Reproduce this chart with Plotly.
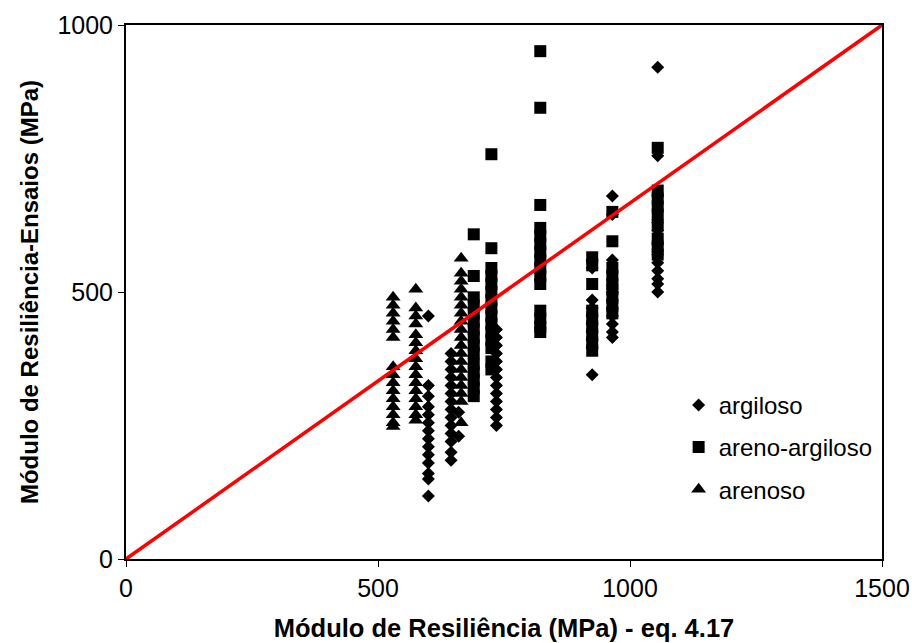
import plotly.graph_objects as go

# Resilient modulus: measured (tests) vs. predicted by eq. 4.17, per soil type

# argiloso (clayey)
arg_x = ([600] * 14 + [645] * 14 + [660] * 2 + [735] * 13 + [925] * 10
         + [965] * 10 + [1055] * 12)
arg_y = ([455, 325, 305, 285, 270, 255, 240, 225, 210, 195, 180, 160, 150, 118]
         + [385, 370, 355, 340, 325, 310, 295, 280, 265, 250, 235, 220, 200, 185]
         + [275, 230]
         + [430, 415, 400, 385, 370, 355, 340, 325, 310, 295, 280, 265, 250]
         + [560, 545, 485, 470, 455, 440, 425, 410, 395, 345]
         + [680, 645, 560, 500, 485, 470, 455, 440, 425, 415]
         + [921, 755, 680, 630, 615, 590, 570, 555, 540, 525, 515, 500])

# areno-argiloso (clayey sand)
aa_x = ([690] * 15 + [725] * 15 + [822] * 15 + [925] * 9 + [965] * 9
        + [1055] * 9)
aa_y = ([608, 530, 490, 475, 460, 445, 430, 415, 400, 385, 365, 350, 335, 320, 305]
        + [758, 582, 545, 530, 515, 500, 485, 470, 455, 440, 425, 410, 395, 370, 355]
        + [951, 845, 663, 620, 605, 590, 575, 560, 545, 530, 515, 465, 450, 435, 425]
        + [565, 550, 515, 465, 450, 435, 420, 405, 390]
        + [650, 595, 545, 530, 515, 505, 490, 475, 460]
        + [770, 690, 675, 660, 645, 625, 600, 585, 570])

# arenoso (sandy)
are_x = [530] * 15 + [575] * 16 + [665] * 19
are_y = ([490, 475, 460, 445, 430, 415, 360, 345, 330, 315, 300, 285, 270, 255, 248]
         + [505, 470, 455, 440, 420, 405, 390, 375, 360, 345, 330, 315, 300, 285, 270, 260]
         + [563, 535, 520, 505, 490, 475, 460, 445, 430, 415, 400, 385, 370, 355,
            340, 325, 310, 295, 255])

# line of equality
line_x = [0, 1500]
line_y = [0, 1000]

x_ticks = [0, 500, 1000, 1500]
y_ticks = [0, 500, 1000]

font_family = "Arial, Liberation Sans, sans-serif"
fs = 24

fig = go.Figure()
fig.add_trace(go.Scatter(x=arg_x, y=arg_y, mode="markers", name="argiloso",
                         legendgroup="a",
                         marker=dict(symbol="diamond", size=10, color="black")))
fig.add_trace(go.Scatter(x=aa_x, y=aa_y, mode="markers", name="areno-argiloso",
                         legendgroup="b",
                         marker=dict(symbol="square", size=12, color="black")))
fig.add_trace(go.Scatter(x=are_x, y=are_y, mode="markers", name="arenoso",
                         legendgroup="c",
                         marker=dict(symbol="triangle-up", size=13, color="black")))
fig.add_trace(go.Scatter(x=line_x, y=line_y, mode="lines", showlegend=False,
                         line=dict(color="#ff0000", width=3.5)))

fig.update_layout(
    width=912, height=643,
    margin=dict(l=126, r=30, t=25, b=84),
    paper_bgcolor="white", plot_bgcolor="white",
    font=dict(family=font_family, size=fs, color="black"),
    legend=dict(x=0.731, y=0.33, xanchor="left", yanchor="top",
                bgcolor="rgba(0,0,0,0)", font=dict(size=fs),
                traceorder="grouped", tracegroupgap=8, itemsizing="trace"),
    xaxis=dict(range=[0, 1500], tickvals=x_ticks, showgrid=False, zeroline=False,
               showline=True, linecolor="black", linewidth=2, mirror=True,
               ticks="outside", ticklen=6, tickcolor="black", automargin=False,
               tickfont=dict(size=25),
               title=dict(text="<b>Módulo de Resiliência (MPa) - eq. 4.17</b>",
                          font=dict(size=25.5), standoff=18)),
    yaxis=dict(range=[0, 1000], tickvals=y_ticks, showgrid=False, zeroline=False,
               showline=True, linecolor="black", linewidth=2, mirror=True,
               ticks="outside", ticklen=6, tickcolor="black", automargin=False,
               tickfont=dict(size=25),
               title=dict(text="<b>Módulo de Resiliência-Ensaios (MPa)</b>",
                          font=dict(size=fs), standoff=12)),
)

fig.write_html("out.html")
